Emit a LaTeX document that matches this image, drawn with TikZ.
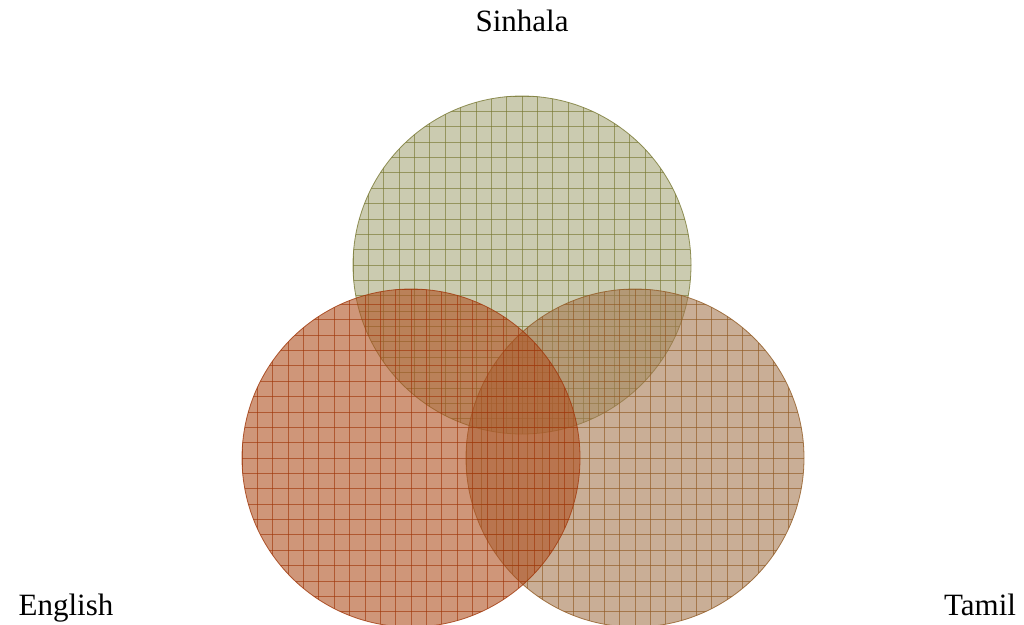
\documentclass[tikz,border=0pt]{standalone}
\usepackage{fontspec}
\setmainfont{Liberation Serif}
\definecolor{sinF}{RGB}{168,168,123}
\definecolor{sinL}{RGB}{120,120,50}
\definecolor{engF}{RGB}{175,80,32}
\definecolor{engL}{RGB}{160,55,10}
\definecolor{tamF}{RGB}{165,120,80}
\definecolor{tamL}{RGB}{145,90,35}
\tikzset{
  lbl/.style={font=\fontsize{31}{36}\selectfont, inner sep=0pt, anchor=base},
}
\newcommand{\vennset}[4]{% cx, cy, fill, line
  \begin{scope}
    \fill[#3, fill opacity=0.6] (#1,#2) circle (169);
    \clip (#1,#2) circle (169);
    \foreach \k in {-11,...,11}{
      \draw[#4, line width=0.7pt, opacity=0.65] ({#1+\k*15.36},{#2-170}) -- ({#1+\k*15.36},{#2+170});
      \draw[#4, line width=0.7pt, opacity=0.65] ({#1-170},{#2+\k*15.36}) -- ({#1+170},{#2+\k*15.36});
    }
  \end{scope}
  \draw[#4, line width=0.8pt, opacity=0.8] (#1,#2) circle (169);
}
\begin{document}
\begin{tikzpicture}[x=1pt,y=-1pt]
\useasboundingbox (0,0) rectangle (1024,624);
\vennset{522}{265}{sinF}{sinL}
\vennset{635}{458}{tamF}{tamL}
\vennset{411}{458}{engF}{engL}
\node[lbl] (sin) at (522,31) {Sinhala};
\node[lbl] (eng) at (66,615) {English};
\node[lbl] (tam) at (980,615) {Tamil};
\end{tikzpicture}
\end{document}
